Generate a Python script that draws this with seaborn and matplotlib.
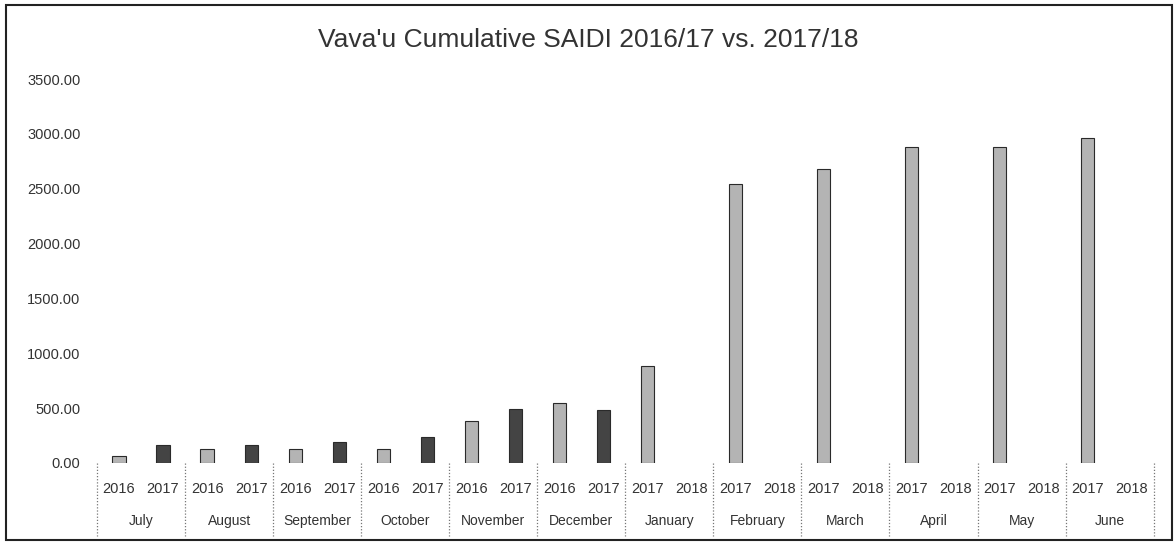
import numpy as np
import pandas as pd
import matplotlib
matplotlib.use("Agg")
import matplotlib.pyplot as plt
import matplotlib.transforms as mtransforms
from matplotlib.patches import Rectangle
import seaborn as sns

# ---- data ----
months = ["July", "August", "September", "October", "November", "December",
          "January", "February", "March", "April", "May", "June"]
years_first = ["2016"] * 6 + ["2017"] * 6
years_second = ["2017"] * 6 + ["2018"] * 6
values_first = [62, 130, 127, 127, 385, 547, 882, 2545, 2676, 2882, 2880, 2961]
values_second = [162, 162, 195, 238, 490, 487, np.nan, np.nan, np.nan, np.nan, np.nan, np.nan]
yticks = [0, 500, 1000, 1500, 2000, 2500, 3000, 3500]
title = "Vava'u Cumulative SAIDI 2016/17 vs. 2017/18"

rows = []
order = []
year_labels = []
for m, y1, y2, v1, v2 in zip(months, years_first, years_second, values_first, values_second):
    k1, k2 = f"{m} {y1}a", f"{m} {y2}b"
    rows.append({"slot": k1, "value": v1, "series": "first"})
    rows.append({"slot": k2, "value": v2, "series": "second"})
    order += [k1, k2]
    year_labels += [y1, y2]
df = pd.DataFrame(rows)

sns.set_theme(style="white")
plt.rcParams["font.family"] = ["Liberation Sans", "DejaVu Sans"]

fig = plt.figure(figsize=(11.76, 5.45), dpi=100)
ax = fig.add_axes([0.0825, 0.1505, 0.8985, 0.7045])

sns.barplot(data=df, x="slot", y="value", hue="series", order=order,
            dodge=False, width=0.3, palette={"first": "#b4b4b4", "second": "#444444"},
            edgecolor="#2a2a2a", linewidth=0.8, legend=False, ax=ax)

ax.set_ylim(0, 3500)
ax.set_yticks(yticks)
ax.set_yticklabels([f"{t:.2f}" for t in yticks], fontsize=10.5, color="#333333")
ax.set_xticks(range(len(order)))
ax.set_xticklabels(year_labels, fontsize=10.5, color="#333333")
ax.tick_params(axis="x", length=0, pad=14)
ax.tick_params(axis="y", length=0, pad=12)
ax.set_xlabel("")
ax.set_ylabel("")
for s in ax.spines.values():
    s.set_visible(False)
ax.set_xlim(-0.5, len(order) - 0.5)

trans = mtransforms.blended_transform_factory(ax.transData, ax.transAxes)
for i, m in enumerate(months):
    ax.text(2 * i + 0.5, -0.15, m, transform=trans, ha="center", va="center",
            fontsize=10, color="#333333")
for b in range(len(months) + 1):
    x = 2 * b - 0.5
    ax.plot([x, x], [0, -0.19], transform=trans, clip_on=False,
            color="#777777", linestyle=(0, (1, 1.5)), linewidth=0.9)

fig.text(0.5, 0.927, title, ha="center", va="center", fontsize=19, color="#333333")
fig.patches.append(Rectangle((0.005, 0.01), 0.992, 0.98, transform=fig.transFigure,
                             fill=False, edgecolor="#222222", linewidth=1.5))

fig.savefig("out.png", dpi=100)
